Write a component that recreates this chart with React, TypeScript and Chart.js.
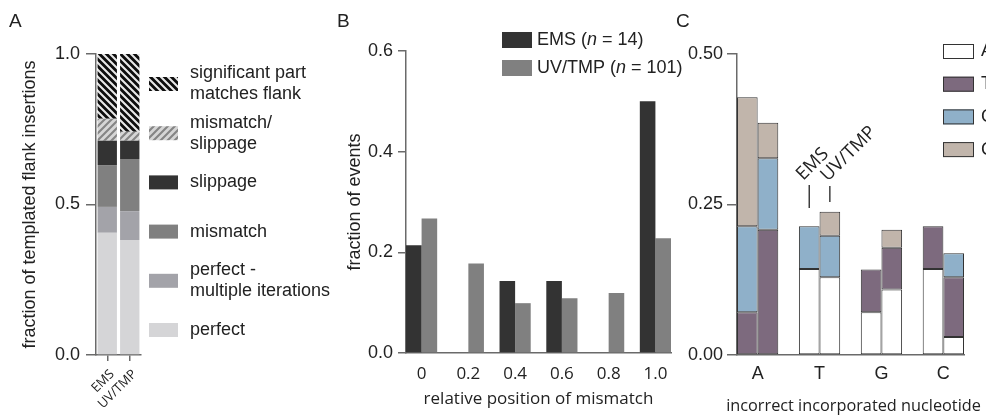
import React, { useEffect, useRef } from "react";
import { Chart, registerables } from "chart.js";
Chart.register(...registerables);

const ARIAL = '"Liberation Sans", Arial, Helvetica, sans-serif';
const MYRIAD = '"Open Sans", "Noto Sans", sans-serif';
const INK = "#222222";
const AXIS = "#6a6a6a";

// ---------- Panel A data ----------
const groupsA = ["EMS", "UV/TMP"];
const seriesNamesA = [
  "perfect",
  "perfect -\nmultiple iterations",
  "mismatch",
  "slippage",
  "mismatch/\nslippage",
  "significant part\nmatches flank",
];
const perfectA = [0.406, 0.382];
const perfectMultiA = [0.086, 0.096];
const mismatchA = [0.139, 0.173];
const slippageA = [0.081, 0.061];
const mismatchSlipA = [0.073, 0.03];
const significantA = [0.215, 0.258];
const ticksA = [0, 0.5, 1.0];

// ---------- Panel B data ----------
const positionsB = [0, 0.2, 0.4, 0.6, 0.8, 1.0];
const positionLabelsB = ["0", "0.2", "0.4", "0.6", "0.8", "1.0"];
const groupsB = ["EMS", "UV/TMP"];
const countsB = [14, 101];
const emsB = [0.214, 0, 0.143, 0.143, 0, 0.5];
const uvB = [0.267, 0.178, 0.099, 0.109, 0.119, 0.228];
const ticksB = [0, 0.2, 0.4, 0.6];

// ---------- Panel C data ----------
const nucleotidesC = ["A", "T", "G", "C"];
const nucPositionsC = [0, 1, 2, 3];
const originalC = ["A", "T", "G", "C"];
const emsOrigA = [0, 0.143, 0.071, 0.143];
const emsOrigT = [0.071, 0, 0.071, 0.071];
const emsOrigG = [0.143, 0.071, 0, 0];
const emsOrigC = [0.214, 0, 0, 0];
const uvOrigA = [0, 0.129, 0.109, 0.03];
const uvOrigT = [0.208, 0, 0.069, 0.099];
const uvOrigG = [0.119, 0.069, 0, 0.04];
const uvOrigC = [0.059, 0.04, 0.03, 0];
const ticksC = [0, 0.25, 0.5];

function makeHatch(ctx: CanvasRenderingContext2D, bg: string, fg: string, dir: "down" | "up", p: number, w: number) {
  const c = document.createElement("canvas");
  c.width = p;
  c.height = p;
  const x = c.getContext("2d")!;
  x.fillStyle = bg;
  x.fillRect(0, 0, p, p);
  x.strokeStyle = fg;
  x.lineWidth = w;
  x.beginPath();
  if (dir === "down") {
    for (const k of [-p, 0, p]) {
      x.moveTo(k - 1, -1);
      x.lineTo(k + p + 1, p + 1);
    }
  } else {
    for (const k of [0, p, 2 * p]) {
      x.moveTo(k + 1, -1);
      x.lineTo(-1, k + 1);
    }
  }
  x.stroke();
  return ctx.createPattern(c, "repeat")!;
}

const font = (size: number, family = ARIAL, style = "normal") => `${style} ${size}px ${family}`;

export default function App() {
  const refA = useRef<HTMLCanvasElement>(null);
  const refB = useRef<HTMLCanvasElement>(null);
  const refC = useRef<HTMLCanvasElement>(null);

  useEffect(() => {
    document.body.style.margin = "0";
    const charts: Chart[] = [];

    // ---------------- Panel A ----------------
    const ctxA = refA.current!.getContext("2d")!;
    const hatchDark = makeHatch(ctxA, "#0d0d0d", "#e8e8e8", "down", 7, 2.1);
    const hatchLight = makeHatch(ctxA, "#d6d6d6", "#858585", "up", 7, 2.1);
    const colorsA = ["#d5d5d7", "#a3a3a9", "#808080", "#333333", hatchLight, hatchDark];
    const valuesA = [perfectA, perfectMultiA, mismatchA, slippageA, mismatchSlipA, significantA];

    const legendA = {
      id: "legendA",
      afterDraw(chart: any) {
        const c = chart.ctx as CanvasRenderingContext2D;
        const ds = chart.data.datasets;
        c.save();
        c.font = font(18);
        c.textBaseline = "middle";
        c.textAlign = "left";
        for (let i = 0; i < ds.length; i++) {
          const d = ds[ds.length - 1 - i];
          const cy = 84 + i * 49.2;
          c.fillStyle = d.backgroundColor;
          c.fillRect(149, cy - 7, 29, 14);
          c.fillStyle = INK;
          const lines = String(d.label).split("\n");
          lines.forEach((ln, j) => {
            c.fillText(ln, 190, cy - ((lines.length - 1) * 21) / 2 + j * 21);
          });
        }
        c.restore();

        // rotated category labels under the two bars
        const xs = chart.scales.x;
        c.save();
        c.font = font(13, MYRIAD);
        c.fillStyle = INK;
        c.textAlign = "right";
        c.textBaseline = "middle";
        chart.data.labels.forEach((lab: string, i: number) => {
          const px = xs.getPixelForTick(i);
          c.save();
          c.translate(px + 5, xs.top + 17);
          c.rotate(-Math.PI / 4);
          c.fillText(lab, 0, 0);
          c.restore();
        });
        c.restore();
      },
    };

    charts.push(
      new Chart(refA.current!, {
        type: "bar",
        data: {
          labels: groupsA,
          datasets: valuesA.map((v, i) => ({
            label: seriesNamesA[i],
            data: v,
            backgroundColor: colorsA[i] as any,
            borderWidth: 0,
          })),
        },
        options: {
          animation: false,
          responsive: false,
          layout: { padding: { left: 0, top: 54, right: 189, bottom: 0 } },
          plugins: { legend: { display: false }, tooltip: { enabled: false } },
          datasets: { bar: { categoryPercentage: 1, barPercentage: 0.86 } },
          scales: {
            x: {
              stacked: true,
              offset: true,
              grid: { display: true, offset: false, drawOnChartArea: false, tickLength: 6, color: AXIS, lineWidth: 1.5 },
              border: { color: AXIS, width: 1.5 },
              ticks: { display: false, autoSkip: false },
              afterFit: (s: any) => {
                s.height = 62;
              },
            },
            y: {
              stacked: true,
              min: 0,
              max: 1,
              afterBuildTicks: (s: any) => {
                s.ticks = ticksA.map((v) => ({ value: v }));
              },
              ticks: { callback: (v: any) => Number(v).toFixed(1), font: { family: ARIAL, size: 18 }, color: INK, padding: 6 },
              grid: { drawOnChartArea: false, tickLength: 10, color: AXIS, lineWidth: 1.5 },
              border: { color: AXIS, width: 1.5 },
              title: {
                display: true,
                text: "fraction of templated flank insertions",
                font: { family: ARIAL, size: 18 },
                color: INK,
                padding: { top: 19, bottom: 0 },
              },
              afterFit: (s: any) => {
                s.width = 96;
              },
            },
          },
        },
        plugins: [legendA],
      } as any)
    );

    // ---------------- Panel B ----------------
    const colorsB = ["#333333", "#808080"];
    const legendB = {
      id: "legendB",
      afterDraw(chart: any) {
        const c = chart.ctx as CanvasRenderingContext2D;
        c.save();
        c.textBaseline = "middle";
        c.textAlign = "left";
        groupsB.forEach((g, i) => {
          const top = 32 + i * 28;
          c.fillStyle = colorsB[i];
          c.fillRect(172, top, 30, 16);
          c.fillStyle = INK;
          let x = 207;
          const cy = top + 8;
          c.font = font(18);
          const p1 = `${g} (`;
          c.fillText(p1, x, cy);
          x += c.measureText(p1).width;
          c.font = font(18, ARIAL, "italic");
          c.fillText("n", x, cy);
          x += c.measureText("n").width;
          c.font = font(18);
          c.fillText(` = ${countsB[i]})`, x, cy);
        });
        c.restore();
      },
    };

    charts.push(
      new Chart(refB.current!, {
        type: "bar",
        data: {
          datasets: [emsB, uvB].map((vals, i) => ({
            label: groupsB[i],
            data: positionsB.map((x, j) => ({ x, y: vals[j] })),
            backgroundColor: colorsB[i],
            borderWidth: 0,
          })),
        },
        options: {
          animation: false,
          responsive: false,
          layout: { padding: { left: 0, top: 51, right: 17, bottom: 0 } },
          plugins: { legend: { display: false }, tooltip: { enabled: false } },
          datasets: { bar: { categoryPercentage: 2 / 3, barPercentage: 1 } },
          scales: {
            x: {
              type: "linear",
              offset: false,
              min: -0.2 / 3,
              max: 1 + 0.2 / 3,
              afterBuildTicks: (s: any) => {
                s.ticks = positionsB.map((v) => ({ value: v }));
              },
              ticks: { callback: (_v: any, i: number) => positionLabelsB[i], font: { family: MYRIAD, size: 17 }, color: INK, padding: 11 },
              grid: { display: true, offset: false, drawOnChartArea: false, drawTicks: false },
              border: { color: AXIS, width: 1.5 },
              title: {
                display: true,
                text: "relative position of mismatch",
                font: { family: MYRIAD, size: 17 },
                color: INK,
                padding: { top: 0, bottom: 8 },
              },
              afterFit: (s: any) => {
                s.height = 64;
              },
            },
            y: {
              min: 0,
              max: 0.6,
              afterBuildTicks: (s: any) => {
                s.ticks = ticksB.map((v) => ({ value: v }));
              },
              ticks: { callback: (v: any) => Number(v).toFixed(1), font: { family: ARIAL, size: 18 }, color: INK, padding: 5 },
              grid: { drawOnChartArea: false, tickLength: 8, color: AXIS, lineWidth: 1.5 },
              border: { color: AXIS, width: 1.5 },
              title: {
                display: true,
                text: "fraction of events",
                font: { family: ARIAL, size: 18 },
                color: INK,
                padding: { top: 14, bottom: 0 },
              },
              afterFit: (s: any) => {
                s.width = 76;
              },
            },
          },
        },
        plugins: [legendB],
      } as any)
    );

    // ---------------- Panel C ----------------
    const colorsC = ["#ffffff", "#7d6a7e", "#8fb0c9", "#c1b5ab"];
    const emsC = [emsOrigA, emsOrigT, emsOrigG, emsOrigC];
    const uvC = [uvOrigA, uvOrigT, uvOrigG, uvOrigC];
    const dsC: any[] = [];
    [emsC, uvC].forEach((grp, gi) => {
      grp.forEach((vals, k) => {
        dsC.push({
          label: originalC[k],
          stack: gi === 0 ? "EMS" : "UV/TMP",
          // absent (zero) segments are left out so they draw no outline
          data: nucPositionsC.map((x, j) => ({ x, y: vals[j] === 0 ? null : vals[j] })),
          backgroundColor: colorsC[k],
          borderColor: "#333333",
          borderWidth: 1,
          borderSkipped: false,
        });
      });
    });

    const legendC = {
      id: "legendC",
      afterDraw(chart: any) {
        const c = chart.ctx as CanvasRenderingContext2D;
        c.save();
        c.textBaseline = "middle";
        c.textAlign = "left";
        c.font = font(18);
        originalC.forEach((n, i) => {
          const cy = 51.5 + i * 32.7;
          c.fillStyle = colorsC[i];
          c.fillRect(255, cy - 7.5, 31, 15);
          c.strokeStyle = "#333333";
          c.lineWidth = 1;
          c.strokeRect(255.5, cy - 7, 30, 14);
        });
        // labels are cut by the figure's right edge, as in the source
        c.beginPath();
        c.rect(0, 0, 298, chart.height);
        c.clip();
        c.fillStyle = INK;
        originalC.forEach((n, i) => {
          const cy = 51.5 + i * 32.7;
          c.fillText(n, 293, cy);
        });
        c.restore();

        // x-axis title (drawn here so it is not squeezed to the plot width)
        const area = chart.chartArea;
        c.save();
        c.font = font(16.3, MYRIAD);
        c.fillStyle = INK;
        c.textAlign = "center";
        c.textBaseline = "middle";
        c.fillText("incorrect incorporated nucleotide", (area.left + area.right) / 2 + 3, 406);
        c.restore();
      },
      afterDatasetsDraw(chart: any) {
        const c = chart.ctx as CanvasRenderingContext2D;
        const emsBar = chart.getDatasetMeta(0).data[1];
        const uvBar = chart.getDatasetMeta(4).data[1];
        c.save();
        c.strokeStyle = "#222222";
        c.lineWidth = 1.3;
        c.fillStyle = INK;
        c.font = font(18.5, MYRIAD);
        c.textAlign = "left";
        c.textBaseline = "alphabetic";
        const marks = [
          { x: emsBar.x, y1: 185, y2: 208, text: groupsB[0], dx: -6 },
          { x: uvBar.x, y1: 186, y2: 202, text: groupsB[1], dx: -2 },
        ];
        marks.forEach((m) => {
          c.beginPath();
          c.moveTo(m.x, m.y1);
          c.lineTo(m.x, m.y2);
          c.stroke();
          c.save();
          c.translate(m.x + m.dx, m.y1 - 4);
          c.rotate(-Math.PI / 4);
          c.fillText(m.text, 0, 0);
          c.restore();
        });
        c.restore();
      },
    };

    charts.push(
      new Chart(refC.current!, {
        type: "bar",
        data: { datasets: dsC },
        options: {
          animation: false,
          responsive: false,
          layout: { padding: { left: 0, top: 54, right: 31, bottom: 0 } },
          plugins: { legend: { display: false }, tooltip: { enabled: false } },
          datasets: { bar: { categoryPercentage: 2 / 3, barPercentage: 1 } },
          scales: {
            x: {
              type: "linear",
              stacked: true,
              offset: false,
              min: -1 / 3,
              max: 3 + 1 / 3,
              afterBuildTicks: (s: any) => {
                s.ticks = nucPositionsC.map((v) => ({ value: v }));
              },
              ticks: { callback: (_v: any, i: number) => nucleotidesC[i], font: { family: ARIAL, size: 18 }, color: INK, padding: 8 },
              grid: { display: true, offset: false, drawOnChartArea: false, drawTicks: false },
              border: { color: AXIS, width: 1.5 },
              afterFit: (s: any) => {
                s.height = 62;
              },
            },
            y: {
              stacked: true,
              min: 0,
              max: 0.5,
              afterBuildTicks: (s: any) => {
                s.ticks = ticksC.map((v) => ({ value: v }));
              },
              ticks: { callback: (v: any) => Number(v).toFixed(2), font: { family: ARIAL, size: 18 }, color: INK, padding: 4 },
              grid: { drawOnChartArea: false, tickLength: 10, color: AXIS, lineWidth: 1.5 },
              border: { color: AXIS, width: 1.5 },
              afterFit: (s: any) => {
                s.width = 49;
              },
            },
          },
        },
        plugins: [legendC],
      } as any)
    );

    return () => charts.forEach((c) => c.destroy());
  }, []);

  const letter = (t: string, left: number): React.ReactNode => (
    <div
      style={{
        position: "absolute",
        left,
        top: 11,
        fontFamily: ARIAL,
        fontSize: 19,
        lineHeight: 1,
        color: INK,
      }}
    >
      {t}
    </div>
  );

  return (
    <div
      style={{
        position: "fixed",
        left: 0,
        top: 0,
        width: 995,
        height: 417,
        background: "#ffffff",
        overflow: "hidden",
      }}
    >
      <canvas ref={refA} width={330} height={417} style={{ position: "absolute", left: 0, top: 0 }} />
      <canvas ref={refB} width={358} height={417} style={{ position: "absolute", left: 330, top: 0 }} />
      <canvas ref={refC} width={307} height={417} style={{ position: "absolute", left: 688, top: 0 }} />
      {letter("A", 9)}
      {letter("B", 337)}
      {letter("C", 676)}
    </div>
  );
}
